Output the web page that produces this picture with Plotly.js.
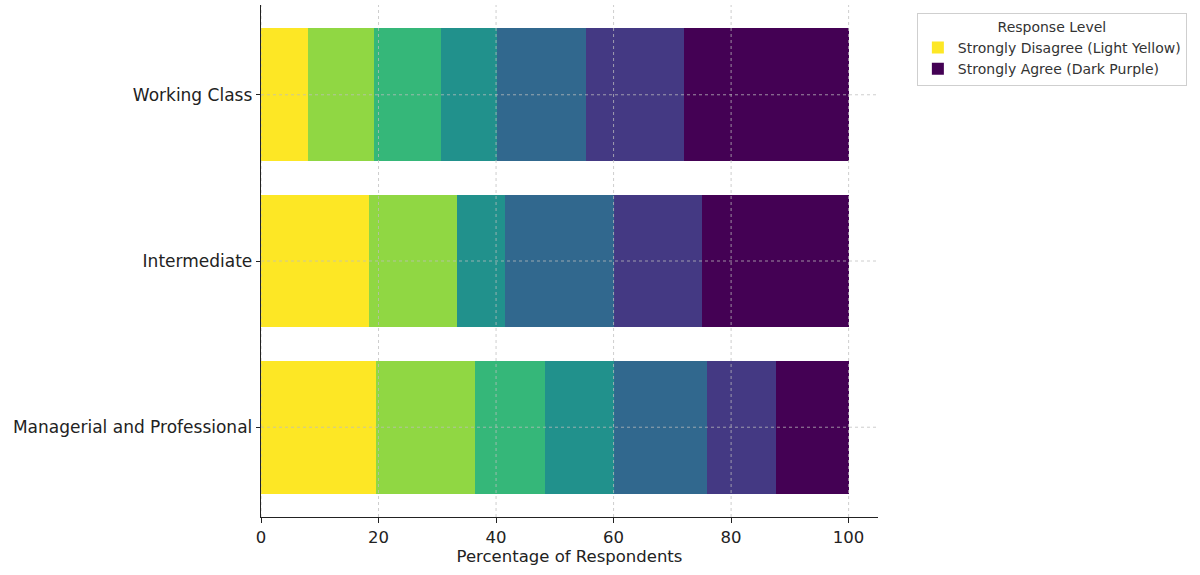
<!DOCTYPE html>
<html>
<head>
<meta charset="utf-8">
<script src="https://cdn.plot.ly/plotly-3.0.1.min.js"></script>
<style>
  html, body { margin: 0; padding: 0; background: #fff; }
  #chart { width: 1200px; height: 575px; }
</style>
</head>
<body>
<div id="chart"></div>
<script>
// ----- data -----
const classes = ["Managerial and Professional", "Intermediate", "Working Class"];
const levels = [
  "Strongly Disagree (Light Yellow)",
  "Disagree",
  "Somewhat Disagree",
  "Neutral",
  "Somewhat Agree",
  "Agree",
  "Strongly Agree (Dark Purple)"
];
// one array per response level, in the order of `classes`
const stronglyDisagree = [19.5, 18.3, 8.0];
const disagree         = [17.0, 15.0, 11.3];
const somewhatDisagree = [11.8, 0.0, 11.3];
const neutral          = [11.7, 8.2, 9.5];
const somewhatAgree    = [15.9, 18.5, 15.2];
const agree            = [11.8, 15.0, 16.7];
const stronglyAgree    = [12.3, 25.0, 28.0];
const seriesValues = [stronglyDisagree, disagree, somewhatDisagree, neutral, somewhatAgree, agree, stronglyAgree];
const xTicks = [0, 20, 40, 60, 80, 100];

// viridis, yellow -> purple
const colors = ["#fde725", "#90d743", "#35b779", "#21918c", "#31688e", "#443983", "#440154"];

const traces = levels.map((name, i) => ({
  type: "bar",
  orientation: "h",
  name: name,
  y: classes,
  x: seriesValues[i],
  width: 0.8,
  marker: { color: colors[i], line: { width: 0 } },
  showlegend: i === 0 || i === levels.length - 1,
  hovertemplate: "%{y}<br>" + name + ": %{x}%<extra></extra>"
}));

// dashed grid drawn over the bars, like the source figure
const gridStyle = { color: "rgba(190,190,190,0.75)", width: 1, dash: "3px,3px" };
const shapes = [
  ...xTicks.map(v => ({ type: "line", xref: "x", yref: "paper", x0: v, x1: v, y0: 0, y1: 1, line: gridStyle, layer: "above" })),
  ...classes.map(c => ({ type: "line", xref: "paper", yref: "y", x0: 0, x1: 1, y0: c, y1: c, line: gridStyle, layer: "above" }))
];

const layout = {
  width: 1200,
  height: 575,
  barmode: "stack",
  bargap: 0.2,
  font: { family: "DejaVu Sans, sans-serif", color: "#222" },
  margin: { l: 261, r: 322, t: 5, b: 58, pad: 0 },
  xaxis: {
    range: [0, 105],
    tickvals: xTicks,
    ticks: "outside",
    ticklen: 5,
    tickcolor: "#222",
    tickfont: { size: 16.5 },
    showgrid: false,
    zeroline: false,
    showline: true,
    linecolor: "#222",
    linewidth: 1.3,
    title: { text: "Percentage of Respondents", font: { size: 16.5 }, standoff: 2 }
  },
  yaxis: {
    type: "category",
    categoryorder: "array",
    categoryarray: classes,
    range: [-0.54, 2.54],
    ticks: "outside",
    ticklen: 4,
    tickcolor: "#222",
    tickfont: { size: 17 },
    showgrid: false,
    zeroline: false,
    showline: true,
    linecolor: "#222",
    linewidth: 1.3,
    ticklabelstandoff: 0
  },
  legend: {
    x: 1.063, xanchor: "left",
    y: 0.985, yanchor: "top",
    traceorder: "normal",
    bgcolor: "#fff",
    bordercolor: "#cfcfcf",
    borderwidth: 1,
    font: { size: 14, color: "#333" },
    title: { text: "Response Level", side: "top center", font: { size: 14, color: "#333" } },
    itemsizing: "constant",
    tracegroupgap: 2
  },
  shapes: shapes,
  plot_bgcolor: "#fff",
  paper_bgcolor: "#fff"
};

Plotly.newPlot("chart", traces, layout, { displayModeBar: false, staticPlot: true });
</script>
</body>
</html>
